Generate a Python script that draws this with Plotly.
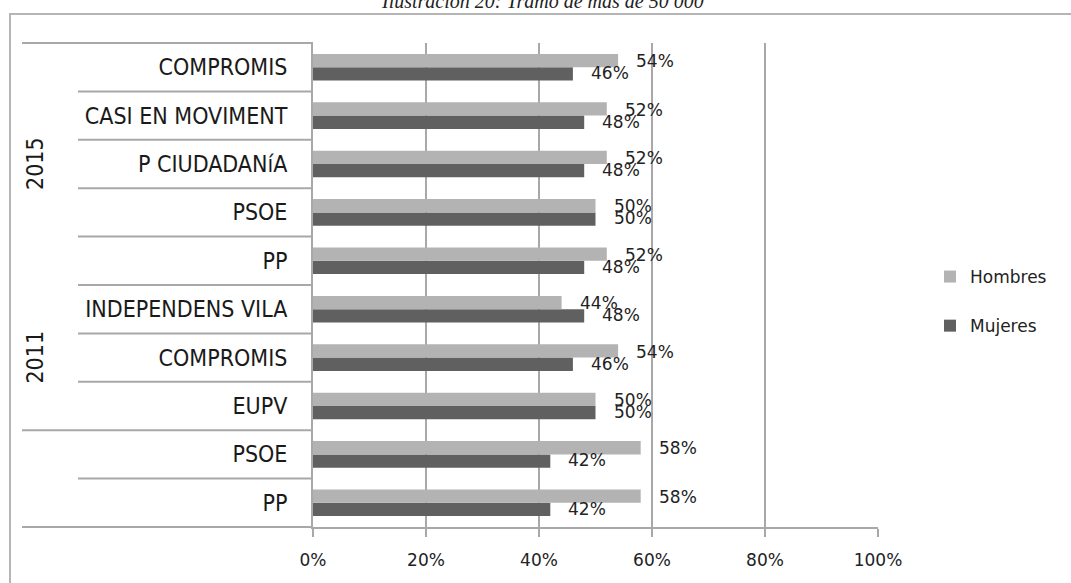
import plotly.graph_objects as go

# ---- data (top to bottom as shown) ----
years = ["2015", "2015", "2015", "2015", "2015", "2011", "2011", "2011", "", ""]
parties = ["COMPROMIS", "CASI EN MOVIMENT", "P CIUDADANíA", "PSOE", "PP",
           "INDEPENDENS VILA", "COMPROMIS", "EUPV", "PSOE", "PP"]
hombres = [54, 52, 52, 50, 52, 44, 54, 50, 58, 58]
mujeres = [46, 48, 48, 50, 48, 48, 46, 50, 42, 42]
x_ticks = [0, 20, 40, 60, 80, 100]
x_tick_labels = ["0%", "20%", "40%", "60%", "80%", "100%"]

# plotly puts first category at the bottom -> reverse
ids = [f"{i}_{p}" for i, p in enumerate(parties)][::-1]
names = parties[::-1]
h_vals = hombres[::-1]
m_vals = mujeres[::-1]

W, H = 1071, 583
L, R, T, B = 313, 193, 43, 56
PW = W - L - R
PH = H - T - B

def px_x(px):
    return (px - L) / PW

def px_y(py):
    return (H - B - py) / PH

C_H = "#b3b3b3"
C_M = "#606060"
GRID = "#a8a8a8"
LBL_FONT = "DejaVu Sans"
COND = dict(family="DejaVu Sans Condensed", size=23, color="#1a1a1a")

fig = go.Figure()
fig.add_trace(go.Bar(y=ids, x=m_vals, orientation="h", name="Mujeres",
                     marker=dict(color=C_M, line=dict(width=0)),
                     legendrank=2, legendgroup="m"))
fig.add_trace(go.Bar(y=ids, x=h_vals, orientation="h", name="Hombres",
                     marker=dict(color=C_H, line=dict(width=0)),
                     legendrank=1, legendgroup="h"))

annotations = []
for cid, hv, mv in zip(ids, h_vals, m_vals):
    annotations.append(dict(x=hv, y=cid, xref="x", yref="y", text=f"{hv}%",
                            showarrow=False, xanchor="left", yanchor="middle",
                            xshift=16, yshift=6,
                            font=dict(family=LBL_FONT, size=17, color="#222")))
    annotations.append(dict(x=mv, y=cid, xref="x", yref="y", text=f"{mv}%",
                            showarrow=False, xanchor="left", yanchor="middle",
                            xshift=16, yshift=-6,
                            font=dict(family=LBL_FONT, size=17, color="#222")))

n = len(ids)
# group labels
groups = {}
for i, y in enumerate(years[::-1]):
    if y:
        groups.setdefault(y, []).append(i)
for g, idx in groups.items():
    center = (min(idx) + max(idx) + 1) / 2 / n
    annotations.append(dict(x=px_x(35), y=center, xref="paper", yref="paper",
                            text=g, textangle=-90, showarrow=False,
                            xanchor="center", yanchor="middle", font=COND))

# title (cut at top like the reference)
annotations.append(dict(x=px_x(542), y=px_y(1), xref="paper", yref="paper",
                        text="<i>Ilustración 20: Tramo de más de 50 000</i>",
                        showarrow=False, xanchor="center", yanchor="middle",
                        font=dict(family="Liberation Serif", size=20, color="#222")))

shapes = []
# chart border
shapes.append(dict(type="rect", xref="paper", yref="paper",
                   x0=px_x(10), x1=px_x(1085), y0=px_y(600), y1=px_y(14),
                   line=dict(color="#b5b5b5", width=2), fillcolor="rgba(0,0,0,0)",
                   layer="below"))
# category separators
long_k = {0, 2, n}
for k in range(n + 1):
    x0 = px_x(22) if k in long_k else px_x(78)
    shapes.append(dict(type="line", xref="paper", yref="paper",
                       x0=x0, x1=0, y0=k / n, y1=k / n,
                       line=dict(color=GRID, width=2)))

fig.update_layout(
    width=W, height=H,
    margin=dict(l=L, r=R, t=T, b=B, autoexpand=False),
    paper_bgcolor="white", plot_bgcolor="white",
    barmode="group", bargap=0.45, bargroupgap=0,
    annotations=annotations, shapes=shapes,
    showlegend=True,
    legend=dict(x=px_x(930), y=px_y(259), xanchor="left", yanchor="top",
                traceorder="grouped", tracegroupgap=24,
                font=dict(family=LBL_FONT, size=17, color="#222"),
                bgcolor="rgba(0,0,0,0)", itemwidth=30),
    xaxis=dict(range=[0, 100], tickvals=x_ticks, ticktext=x_tick_labels,
               showgrid=True, gridcolor=GRID, gridwidth=2,
               showline=True, linecolor=GRID, linewidth=2,
               ticks="outside", ticklen=8, tickcolor=GRID, tickwidth=2,
               ticklabelstandoff=9, zeroline=False,
               tickfont=dict(family=LBL_FONT, size=17, color="#222")),
    yaxis=dict(type="category", categoryorder="array", categoryarray=ids,
               tickvals=ids, ticktext=names, range=[-0.5, n - 0.5],
               showgrid=False, showline=True, linecolor=GRID, linewidth=2,
               ticks="", ticklabelstandoff=19, zeroline=False,
               tickfont=COND),
)

fig.write_html("out.html", config={"displayModeBar": False},
               post_script="document.body.style.margin='0';")
